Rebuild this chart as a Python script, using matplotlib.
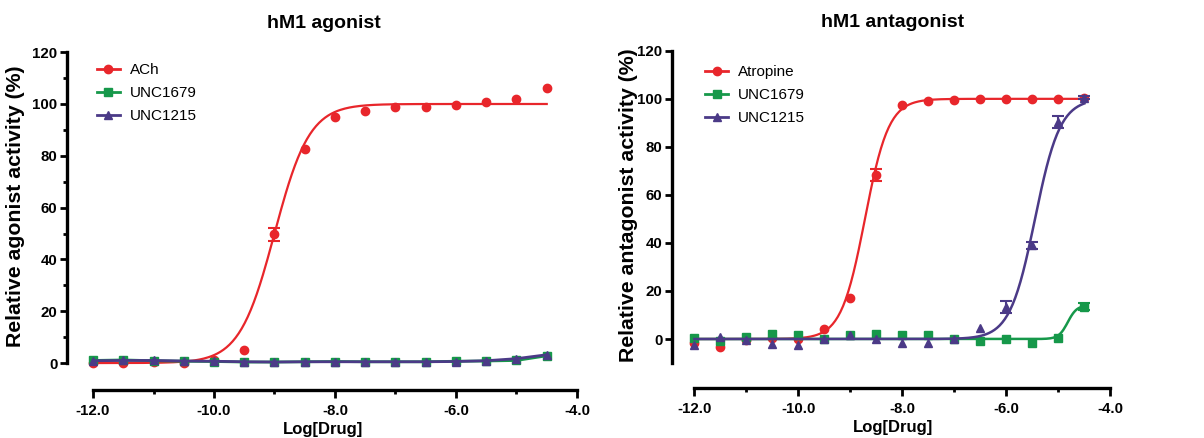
import numpy as np
import matplotlib.pyplot as plt
from matplotlib.lines import Line2D
from matplotlib.ticker import MultipleLocator, FixedLocator, FormatStrFormatter

plt.rcParams['font.family'] = ['Liberation Sans', 'DejaVu Sans']

# log concentrations used in both assays
log_dose = [-12.0, -11.5, -11.0, -10.5, -10.0, -9.5, -9.0, -8.5,
            -8.0, -7.5, -7.0, -6.5, -6.0, -5.5, -5.0, -4.5]

# agonist assay
ach = [0.2, 0.1, 0.3, 0.2, 1.0, 4.9, 49.7, 82.6, 95.1, 97.4, 98.7, 98.7, 99.5, 100.6, 101.9, 106.0]
ach_err = [0, 0, 0, 0, 0, 0, 2.5, 0, 0, 0, 0, 0, 0, 0, 0, 0]
ag_1679 = [1.0, 1.2, 0.9, 0.7, 0.6, 0.4, 0.4, 0.5, 0.6, 0.5, 0.5, 0.5, 0.7, 0.8, 1.0, 2.8]
ag_1215 = [0.9, 1.0, 1.0, 0.8, 0.7, 0.5, 0.4, 0.5, 0.5, 0.5, 0.5, 0.5, 0.6, 0.9, 1.7, 3.2]

# antagonist assay
atropine = [-1.5, -3.2, -0.5, 0.3, 0.2, 4.2, 17.0, 68.4, 97.6, 99.3, 99.7, 99.8, 99.8, 99.8, 100.0, 100.2]
atropine_err = [0, 0, 0, 0, 0, 0, 0, 2.5, 0, 0, 0, 0, 0, 0, 0, 0]
ant_1679 = [0.5, -1.0, 1.0, 2.0, 1.5, 0.2, 1.5, 2.0, 1.5, 1.5, 0.0, -0.7, 0.0, -1.5, 0.5, 13.5]
ant_1679_err = [0, 0, 0, 0, 0, 0, 0, 0, 0, 0, 0, 0, 0, 0, 0, 1.5]
ant_1215 = [-2.3, 0.8, -0.5, -2.0, -2.5, 0.2, 1.5, 0.0, -1.5, -1.5, 0.0, 4.5, 13.4, 39.0, 90.3, 100.5]
ant_1215_err = [0, 0, 0, 0, 0, 0, 0, 0, 0, 0, 0, 0, 2.5, 1.5, 2.5, 0.5]

# fitted sigmoid parameters: bottom, top, logEC50, hill
fit_ach = (0, 100, -9.0, 1.5)
fit_atropine = (0, 100, -8.72, 1.9)
fit_1215 = (0, 100, -5.45, 1.8)
fit_1679 = (0, 14, -4.82, 5.0)

red = '#e8262b'
green = '#16984a'
purple = '#4b3a87'


def sigmoid(x, p):
    bottom, top, mid, hill = p
    return bottom + (top - bottom) / (1 + 10 ** ((mid - x) * hill))


xs = np.linspace(-12, -4.5, 300)

fig = plt.figure(figsize=(12.04, 4.38), dpi=100)
W, H = 1204, 438


def add_ax(l, r, t, b):
    return fig.add_axes([l / W, 1 - b / H, (r - l) / W, (b - t) / H])


def points(ax, y, err, marker, color):
    ax.plot(log_dose, y, marker, color=color, ms=6, ls='none')
    xe = [x for x, e in zip(log_dose, err) if e > 0]
    ye = [v for v, e in zip(y, err) if e > 0]
    ee = [e for e in err if e > 0]
    if xe:
        ax.errorbar(xe, ye, yerr=ee, fmt='none', ecolor=color, capsize=4.5, elinewidth=1.5, capthick=1.5)


def style(ax, ylim, ybottom, ylabel, title, minor_y, label_xy):
    ax.set_xlim(-12.43, -3.95)
    ax.set_ylim(*ylim)
    ax.spines['top'].set_visible(False)
    ax.spines['right'].set_visible(False)
    ax.spines['left'].set_bounds(ybottom, 120)
    ax.spines['bottom'].set_bounds(-12, -4)
    for s in ('left', 'bottom'):
        ax.spines[s].set_linewidth(2.4)
    ax.xaxis.set_major_locator(MultipleLocator(2))
    ax.xaxis.set_minor_locator(MultipleLocator(1))
    ax.xaxis.set_major_formatter(FormatStrFormatter('%.1f'))
    ax.set_yticks([0, 20, 40, 60, 80, 100, 120])
    if minor_y:
        ax.yaxis.set_minor_locator(FixedLocator([10, 30, 50, 70, 90, 110]))
    ax.tick_params(which='major', length=5, width=2, labelsize=10.8, pad=2)
    ax.tick_params(axis='x', which='major', length=6, pad=4)
    ax.tick_params(which='minor', length=3, width=2)
    for lab in ax.get_xticklabels() + ax.get_yticklabels():
        lab.set_fontweight('bold')
    ax.set_xlabel('Log[Drug]', fontsize=12, fontweight='bold', labelpad=3)
    ax.set_ylabel(ylabel, fontsize=15.3, fontweight='bold')
    ax.yaxis.set_label_coords(*label_xy)
    ax.set_title(title, fontsize=14, fontweight='bold', pad=14)


def handle(color, marker):
    return Line2D([], [], color=color, marker=marker, lw=2, markersize=6)


def legend(ax, labels, anchor):
    ax.legend([handle(red, 'o'), handle(green, 's'), handle(purple, '^')], labels,
              loc='upper left', bbox_to_anchor=anchor, borderpad=0, borderaxespad=0,
              frameon=False, fontsize=11, handlelength=1.5, handletextpad=0.65, labelspacing=0.58)


# left: agonist
ax1 = add_ax(67, 580, 47, 390)
ax1.plot(xs, sigmoid(xs, fit_ach), color=red, lw=1.6)
points(ax1, ach, ach_err, 'o', red)
ax1.plot(log_dose, ag_1679, color=green, lw=2, marker='s', ms=6)
ax1.plot(log_dose, ag_1215, color=purple, lw=2, marker='^', ms=6)
style(ax1, (-10.4, 122), 0, 'Relative agonist activity (%)', 'hM1 agonist', True, (-0.082, 0.536))
legend(ax1, ['ACh', 'UNC1679', 'UNC1215'], (0.058, 0.952))

# right: antagonist
ax2 = add_ax(672, 1113, 46, 388)
ax2.plot(xs, sigmoid(xs, fit_atropine), color=red, lw=1.6)
points(ax2, atropine, atropine_err, 'o', red)
ax2.plot(xs, sigmoid(xs, fit_1679), color=green, lw=1.8)
points(ax2, ant_1679, ant_1679_err, 's', green)
ax2.plot(xs, sigmoid(xs, fit_1215), color=purple, lw=1.8)
points(ax2, ant_1215, ant_1215_err, '^', purple)
style(ax2, (-20.4, 122), -10, 'Relative antagonist activity (%)', 'hM1 antagonist', False, (-0.077, 0.535))
legend(ax2, ['Atropine', 'UNC1679', 'UNC1215'], (0.075, 0.944))

fig.savefig('out.png', dpi=100)
